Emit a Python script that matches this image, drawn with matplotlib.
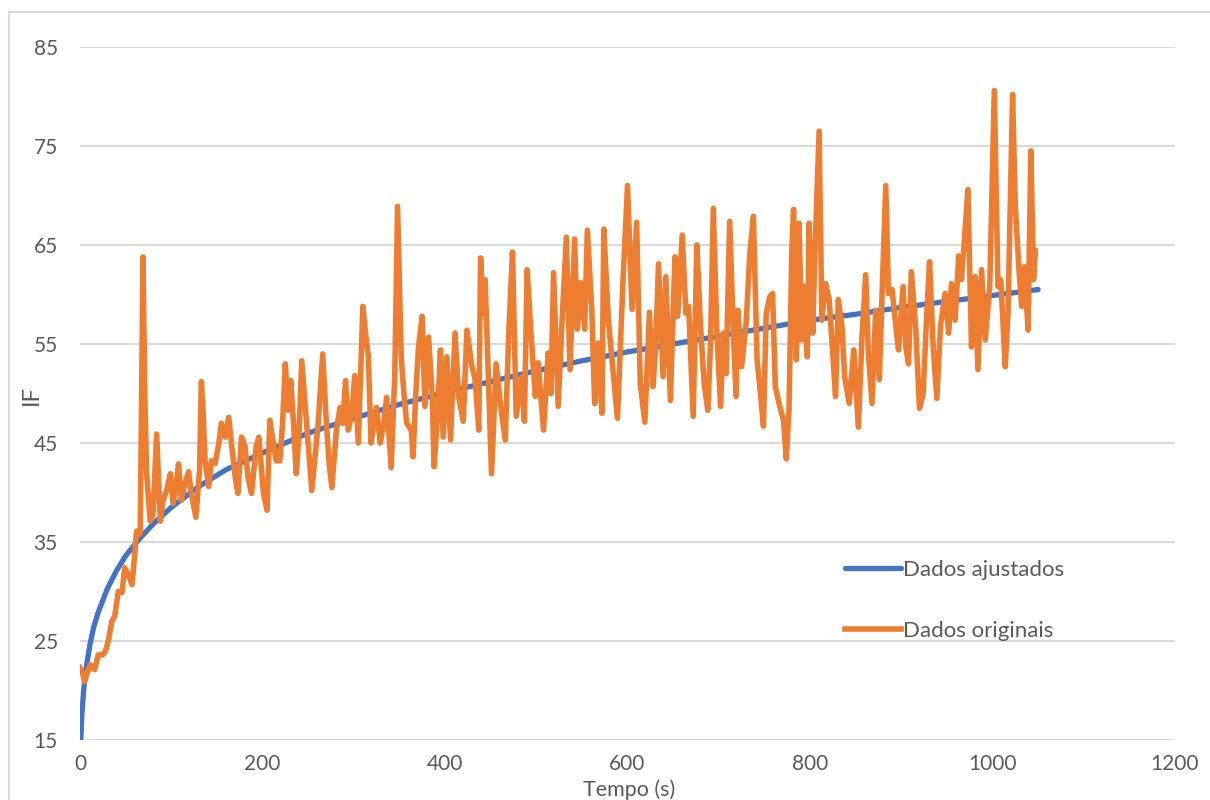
import matplotlib
matplotlib.use("Agg")
import matplotlib.pyplot as plt
from matplotlib.patches import Rectangle

plt.rcParams['font.family'] = ['Lato', 'DejaVu Sans']

# fitted curve
tempo_ajust = [1, 2, 4, 6, 8, 11, 15, 20, 30, 40, 50, 65, 80, 100, 130, 160, 200,
               250, 300, 350, 400, 450, 500, 550, 600, 650, 700, 750, 800, 850,
               900, 950, 1000, 1050]
if_ajust = [15.2, 17.5, 20.0, 21.8, 23.0, 24.7, 26.4, 27.9, 30.3, 32.1, 33.6, 35.3,
            36.8, 38.5, 40.6, 42.3, 44.0, 46.0, 47.5, 48.9, 50.1, 51.2, 52.3, 53.3,
            54.2, 55.0, 55.8, 56.6, 57.4, 58.0, 58.7, 59.3, 59.9, 60.5]

# original data
tempo_orig = [0, 2, 5, 8, 11, 16, 20, 25, 28, 31, 35, 38, 42, 46, 49, 53, 57, 60, 62, 66,
              69, 71, 73, 77, 80, 84, 88, 91, 95, 99, 102, 105, 108, 111, 115, 119, 122,
              127, 131, 133, 135, 137, 141, 144, 148, 152, 155, 159, 163, 166, 170, 173,
              177, 181, 184, 188, 193, 196, 201, 205, 208, 212, 215, 219, 222, 225, 228,
              231, 234, 237, 240, 243, 248, 254, 258, 261, 266, 270, 273, 276, 281, 285,
              288, 291, 294, 298, 301, 305, 310, 313, 316, 319, 322, 325, 329, 333, 336,
              341, 345, 348, 352, 355, 358, 363, 365, 368, 371, 375, 378, 382, 386, 388,
              392, 395, 398, 402, 406, 411, 415, 420, 424, 429, 433, 437, 439, 442, 444,
              447, 451, 456, 461, 466, 470, 474, 478, 484, 487, 490, 494, 499, 502, 508,
              513, 516, 519, 524, 528, 533, 537, 542, 545, 549, 553, 556, 561, 564, 568,
              572, 574, 579, 584, 589, 595, 600, 605, 610, 614, 619, 624, 628, 631, 634,
              639, 642, 647, 652, 655, 660, 664, 667, 672, 676, 680, 684, 688, 691, 694,
              698, 702, 705, 708, 712, 716, 719, 721, 725, 730, 734, 738, 742, 745, 749,
              752, 756, 759, 762, 766, 771, 774, 777, 780, 782, 785, 788, 791, 794, 797,
              799, 803, 805, 810, 813, 817, 821, 825, 828, 831, 835, 838, 843, 848, 853,
              857, 861, 864, 868, 872, 876, 879, 883, 886, 890, 894, 897, 902, 905, 908,
              911, 916, 920, 924, 928, 931, 935, 939, 943, 948, 952, 955, 959, 963, 966,
              969, 973, 977, 981, 984, 988, 992, 997, 1002, 1006, 1009, 1014, 1017, 1022,
              1025, 1029, 1032, 1035, 1039, 1042, 1045, 1047]
if_orig = [22.3, 22.0, 20.9, 21.8, 22.6, 22.1, 23.6, 23.6, 24.0, 25.0, 27.0, 27.5, 30.0,
           29.9, 32.4, 31.7, 30.7, 33.8, 36.1, 35.8, 63.8, 50.0, 41.9, 37.1, 37.8, 45.9,
           37.1, 39.2, 40.2, 41.9, 38.9, 40.5, 42.9, 39.2, 40.9, 42.1, 39.9, 37.5, 42.2,
           51.2, 48.0, 43.2, 40.6, 43.2, 42.9, 44.9, 47.0, 45.6, 47.6, 44.9, 41.6, 39.9,
           45.6, 44.6, 41.6, 39.9, 44.6, 45.6, 39.9, 38.2, 47.3, 44.9, 43.2, 43.2, 47.0,
           53.0, 48.3, 51.3, 47.0, 41.9, 46.0, 53.3, 47.3, 40.2, 44.0, 47.0, 54.0, 47.0,
           43.0, 40.5, 46.3, 48.6, 47.0, 51.3, 46.3, 48.0, 51.8, 45.0, 58.8, 56.0, 53.7,
           45.0, 47.0, 48.6, 45.0, 47.0, 49.6, 42.5, 52.0, 68.9, 53.7, 50.0, 47.0, 46.3,
           43.6, 50.0, 54.7, 57.8, 48.7, 55.7, 49.7, 42.6, 48.0, 54.4, 45.6, 53.7, 45.3,
           56.1, 49.7, 47.2, 56.4, 53.0, 51.4, 46.3, 63.7, 58.0, 61.5, 53.0, 41.9, 53.0,
           48.7, 45.3, 56.4, 64.3, 47.7, 51.7, 47.2, 62.5, 56.4, 49.7, 53.1, 46.3, 54.1,
           50.0, 62.2, 48.7, 56.8, 65.8, 52.4, 65.6, 56.5, 61.2, 56.5, 66.5, 58.2, 49.0,
           55.1, 48.0, 66.6, 57.5, 52.4, 47.5, 61.2, 71.0, 58.5, 67.3, 51.0, 47.1, 58.2,
           50.7, 55.0, 63.1, 51.7, 61.8, 49.3, 63.8, 57.8, 66.0, 58.1, 58.8, 47.7, 65.0,
           56.8, 51.0, 48.3, 55.0, 68.7, 56.1, 48.7, 56.1, 52.0, 67.4, 56.1, 49.7, 58.4,
           52.7, 57.1, 64.0, 67.9, 53.4, 50.7, 46.7, 58.1, 59.8, 60.1, 50.7, 49.0, 47.3,
           43.4, 48.3, 64.2, 68.6, 53.4, 67.2, 55.4, 60.8, 53.7, 67.2, 56.1, 63.2, 76.5,
           57.4, 61.1, 59.5, 54.0, 49.7, 59.5, 56.8, 51.7, 49.0, 54.4, 46.6, 55.7, 62.0,
           54.0, 49.0, 58.4, 51.4, 60.1, 71.0, 60.1, 60.5, 56.8, 54.4, 60.8, 54.7, 53.0,
           62.3, 56.4, 48.5, 50.0, 58.1, 63.3, 54.7, 49.5, 56.8, 60.1, 56.1, 61.1, 57.4,
           63.9, 61.5, 65.2, 70.6, 54.7, 61.8, 52.4, 62.5, 55.4, 60.8, 80.6, 60.8, 61.5,
           52.7, 58.1, 80.2, 68.9, 62.5, 58.8, 62.8, 56.4, 74.5, 61.5, 64.4]

x_ticks = [0, 200, 400, 600, 800, 1000, 1200]
y_ticks = [15, 25, 35, 45, 55, 65, 75, 85]

txt = '#595959'
grid = '#D9D9D9'

fig = plt.figure(figsize=(12.1, 8), dpi=100)
ax = fig.add_axes([80/1210, 60/800, 1095/1210, 693/800])

ax.plot(tempo_ajust, if_ajust, color='#4472C4', lw=3.8, label='Dados ajustados',
        solid_capstyle='round', zorder=3)
ax.plot(tempo_orig, if_orig, color='#ED7D31', lw=4.0, label='Dados originais',
        solid_joinstyle='round', zorder=4)

ax.set_xlim(0, 1200)
ax.set_ylim(15, 85)
ax.set_xticks(x_ticks)
ax.set_yticks(y_ticks)
ax.tick_params(length=0, labelsize=15, labelcolor=txt)
ax.tick_params(axis='y', pad=16)
ax.tick_params(axis='x', pad=10)
ax.grid(axis='y', color=grid, lw=1.5)
ax.set_axisbelow(True)
for s in ax.spines.values():
    s.set_visible(False)

fig.text(629/1210, 0.5/800, 'Tempo (s)', ha='center', va='bottom',
         fontsize=15.5, color=txt)
fig.text(31/1210, 1 - 395/800, 'IF', ha='center', va='center', rotation=90,
         fontsize=17, color=txt)

leg = ax.legend(loc='upper left', bbox_to_anchor=(845/1210, 1 - 560/800),
                bbox_transform=fig.transFigure, frameon=False, fontsize=16,
                handlelength=2.5, handletextpad=0.12, labelspacing=1.85,
                borderpad=0, borderaxespad=0)
for t in leg.get_texts():
    t.set_color(txt)

# light frame around the chart area, open to the right and bottom
fig.patches.append(Rectangle((8.5/1210, -0.1), 1.2, 1.1 - 12/800,
                             transform=fig.transFigure, fill=False,
                             edgecolor=grid, lw=1.5))

fig.savefig('out.png', dpi=100)
